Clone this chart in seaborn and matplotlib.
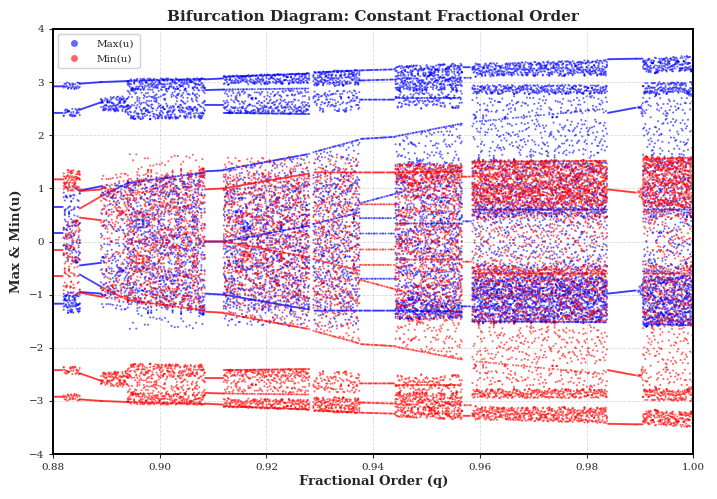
import numpy as np
import pandas as pd
import seaborn as sns
import matplotlib.pyplot as plt
from matplotlib.lines import Line2D

# ---- data (Max(u) structure; Min(u) is its mirror image) ----
Q_STEP = 0.0002
D, M, S = 15.0, 6.0, 2.5   # point densities (points per unit u per q column)

SEG_START = [0.8800, 0.8820, 0.8850, 0.8890, 0.8940, 0.9085, 0.9120, 0.9288,
             0.9375, 0.9442, 0.9569, 0.9586, 0.9840, 0.9893, 0.9906]
SEG_END = [0.8819, 0.8850, 0.8890, 0.8940, 0.9085, 0.9120, 0.9281, 0.9375,
           0.9442, 0.9567, 0.9584, 0.9840, 0.9893, 0.9906, 1.0001]

# branches of Max(u): (u at segment start, u at segment end, share of q columns drawn)
MAX_LINES = [
    [(2.92, 2.92, 1), (2.42, 2.42, 1), (0.65, 0.65, 1), (0.16, 0.16, 1), (-1.17, -1.17, 1)],
    [],
    [(2.97, 3.00, 1), (2.48, 2.62, 1), (0.96, 1.04, 1), (-0.45, -0.40, 1), (-0.62, -0.85, 1),
     (-0.95, -0.98, 1)],
    [(3.00, 3.02, 1), (0.85, 1.10, 0.8)],
    [(1.10, 1.30, 0.7), (3.02, 3.06, 0.8)],
    [(3.05, 3.07, 1), (2.85, 2.86, 1), (2.57, 2.57, 1), (1.32, 1.34, 1), (0.0, 0.0, 1),
     (-0.98, -1.0, 1)],
    [(3.10, 3.16, 0.9), (2.86, 2.88, 0.6), (2.42, 2.40, 0.9), (1.35, 1.65, 0.9), (0.0, 0.30, 0.8),
     (-1.0, -1.28, 0.9)],
    [(3.18, 3.22, 0.8), (1.68, 1.92, 0.7), (0.33, 0.55, 0.7), (-1.30, -1.30, 0.9)],
    [(3.22, 3.24, 0.8), (3.03, 3.05, 0.8), (2.67, 2.67, 0.8), (1.93, 1.97, 0.8), (0.72, 0.90, 0.7),
     (0.15, 0.15, 0.5), (-0.70, -0.70, 0.6), (-1.30, -1.30, 0.9), (0.44, 0.44, 0.6)],
    [(1.98, 2.22, 0.6), (0.34, 0.34, 0.6), (-1.30, -1.32, 0.9), (2.70, 2.70, 0.7)],
    [(3.28, 3.28, 0.8), (3.08, 3.08, 0.6), (0.38, 0.38, 0.8), (-1.22, -1.22, 0.8)],
    [(0.60, 0.60, 0.6), (2.25, 2.50, 0.3), (-1.50, -1.52, 0.7)],
    [(3.43, 3.44, 1), (2.42, 2.52, 1), (-0.98, -0.92, 1)],
    [(3.44, 3.44, 1)],
    [(0.60, 0.60, 0.5), (-1.55, -1.58, 0.6)],
]

# chaotic bands of Max(u): (low start, high start, low end, high end, density)
MAX_BANDS = [
    [],
    [(2.86, 3.0, 2.86, 3.0, D), (2.35, 2.5, 2.35, 2.5, D), (-0.4, 1.0, -0.4, 1.0, M),
     (-1.35, -0.95, -1.35, -0.95, D)],
    [],
    [(2.45, 2.72, 2.42, 2.75, D), (0.8, 1.08, 0.85, 1.12, M), (-0.3, 0.8, -0.3, 0.85, S),
     (-1.0, -0.3, -1.05, -0.3, M), (-1.3, -1.0, -1.35, -1.05, S)],
    [(2.85, 3.06, 2.88, 3.08, D), (2.3, 2.85, 2.3, 2.88, M), (2.3, 2.55, 2.3, 2.55, M),
     (-1.35, 1.2, -1.38, 1.3, M), (-1.66, -1.35, -1.66, -1.38, 1.2)],
    [],
    [(2.95, 3.12, 2.96, 3.18, D), (2.4, 2.84, 2.4, 2.85, M), (2.4, 2.55, 2.4, 2.55, M),
     (1.0, 1.35, 1.1, 1.65, S), (-1.3, 1.0, -1.3, 1.1, M), (-1.58, -1.3, -1.6, -1.3, S)],
    [(2.92, 3.2, 2.94, 3.24, D), (2.42, 2.84, 2.42, 2.86, M), (1.3, 1.68, 1.3, 1.92, S),
     (-1.3, 1.3, -1.3, 1.3, 4.5), (-1.58, -1.3, -1.62, -1.3, S)],
    [],
    [(2.82, 3.3, 2.84, 3.36, D), (2.5, 2.82, 2.5, 2.84, M), (1.5, 1.98, 1.5, 2.2, S),
     (-1.1, 1.5, -1.1, 1.5, M), (-1.46, -1.1, -1.46, -1.1, D)],
    [],
    [(3.1, 3.35, 3.12, 3.42, D), (2.77, 2.95, 2.77, 2.95, D), (1.54, 2.73, 1.54, 2.75, S),
     (0.45, 1.54, 0.45, 1.54, M), (0.45, 0.66, 0.45, 0.66, M), (-0.41, 0.45, -0.41, 0.45, S),
     (-0.66, -0.41, -0.66, -0.41, M), (-1.54, -0.66, -1.54, -0.66, D)],
    [],
    [(2.52, 2.52, 2.33, 2.62, D), (-0.92, -0.92, -1.1, -0.76, D)],
    [(3.15, 3.45, 3.2, 3.5, D), (2.77, 3.0, 2.77, 3.0, D), (1.54, 2.75, 1.54, 2.75, S),
     (0.45, 1.54, 0.45, 1.54, M), (-0.41, 0.45, -0.41, 0.45, S),
     (-0.66, -0.41, -0.66, -0.41, M), (-1.6, -0.66, -1.6, -0.66, D)],
]

X_TICKS = [0.88, 0.90, 0.92, 0.94, 0.96, 0.98, 1.00]
Y_TICKS = [-4, -3, -2, -1, 0, 1, 2, 3, 4]

# ---- build the point table from the arrays above ----
PHI = 0.6180339887498949


def chaotic_fill(n_cols, n_max, seed_offset):
    """Deterministic chaotic orbit (r = 4 logistic map) mapped to [0, 1) per column."""
    x = ((np.arange(n_cols) + seed_offset) * PHI) % 1.0 * 0.96 + 0.02
    for _ in range(6):
        x = 4.0 * x * (1.0 - x)
    out = np.empty((n_cols, max(n_max, 1)))
    for i in range(max(n_max, 1)):
        x = 4.0 * x * (1.0 - x)
        x = np.clip(x, 1e-9, 1 - 1e-9)
        out[:, i] = 2.0 / np.pi * np.arcsin(np.sqrt(x))
    return out


qs_all, us_all = [], []
band_id = 0
for s in range(len(SEG_START)):
    qs = np.arange(SEG_START[s], SEG_END[s], Q_STEP)
    t = (qs - SEG_START[s]) / (SEG_END[s] - SEG_START[s])
    cols = np.arange(len(qs))
    for li, (a, b, share) in enumerate(MAX_LINES[s]):
        keep = ((cols + 7 * li + 3 * s) * PHI) % 1.0 < share
        qs_all.append(qs[keep])
        us_all.append((a + (b - a) * t)[keep])
    for lo0, hi0, lo1, hi1, d in MAX_BANDS[s]:
        band_id += 1
        lo = lo0 + (lo1 - lo0) * t
        hi = hi0 + (hi1 - hi0) * t
        want = d * (hi - lo)
        n = np.floor(np.cumsum(want)) - np.floor(np.concatenate([[0], np.cumsum(want)[:-1]]))
        n = n.astype(int)
        fill = chaotic_fill(len(qs), int(n.max()) if len(n) else 1, band_id * 131.7)
        for ci in range(len(qs)):
            if n[ci] == 0:
                continue
            qs_all.append(np.full(n[ci], qs[ci]))
            us_all.append(lo[ci] + (hi[ci] - lo[ci]) * fill[ci, :n[ci]])

q_max = np.concatenate(qs_all)
u_max = np.concatenate(us_all)

df = pd.concat([
    pd.DataFrame({"q": q_max, "u": u_max, "series": "Max(u)"}),
    pd.DataFrame({"q": q_max, "u": -u_max, "series": "Min(u)"}),
], ignore_index=True)

# ---- plot ----
sns.set_style("white")
plt.rcParams["font.family"] = ["DejaVu Serif"]

fig = plt.figure(figsize=(7.17, 4.99), dpi=100)
ax = fig.add_axes([0.074, 0.09, 0.893, 0.852])

sns.scatterplot(data=df, x="q", y="u", hue="series",
                palette={"Max(u)": "blue", "Min(u)": "red"},
                s=2.2, alpha=0.6, linewidth=0, marker="o", legend=False, ax=ax)

ax.set_xlim(0.88, 1.00)
ax.set_ylim(-4, 4)
ax.set_xticks(X_TICKS)
ax.set_xticklabels([f"{v:.2f}" for v in X_TICKS])
ax.set_yticks(Y_TICKS)
ax.tick_params(labelsize=7.5, length=3, width=0.8, direction="out", left=True, bottom=True)
ax.grid(True, linestyle="--", linewidth=0.6, alpha=0.3, color="gray")
for sp in ax.spines.values():
    sp.set_color("black")
    sp.set_linewidth(1.4)

ax.set_title("Bifurcation Diagram: Constant Fractional Order", fontsize=11,
             fontweight="bold", pad=6)
ax.set_xlabel("Fractional Order (q)", fontsize=9.5, fontweight="bold", labelpad=2)
ax.set_ylabel("Max & Min(u)", fontsize=9.5, fontweight="bold", labelpad=4)

handles = [
    Line2D([], [], linestyle="none", marker="o", markersize=5, color="blue",
           alpha=0.6, markeredgewidth=0),
    Line2D([], [], linestyle="none", marker="o", markersize=5, color="red",
           alpha=0.6, markeredgewidth=0),
]
ax.legend(handles, ["Max(u)", "Min(u)"], loc="upper left", fontsize=7.5,
          frameon=True, fancybox=True, framealpha=0.9, edgecolor="#cccccc",
          handletextpad=1.2, borderpad=0.5)

fig.savefig("out.png", dpi=100)
